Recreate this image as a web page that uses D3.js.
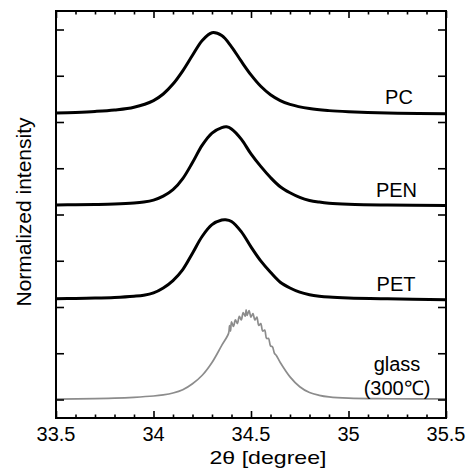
<!DOCTYPE html>
<html><head><meta charset="utf-8">
<script src="https://cdn.jsdelivr.net/npm/d3@7"></script>
<style>body{margin:0;background:#fff}svg{display:block}text{font-family:"Liberation Sans",Arial,sans-serif;fill:#000}</style>
</head><body><svg id="c" width="469" height="469"></svg>
<script>
// ---- data (2θ in degrees, normalized intensity 0..1, stacked by offsets) ----
const samples = ["PC", "PEN", "PET", "glass"];
const offsets = [3, 2, 1, 0];
const sampleLabels = [["PC"], ["PEN"], ["PET"], ["glass", "(300\u2103)"]];
const pcX  = [33.5, 33.6, 33.7, 33.8, 33.9, 34.0, 34.05, 34.1, 34.15, 34.2, 34.25, 34.3, 34.35, 34.4, 34.45, 34.5, 34.55, 34.6, 34.65, 34.7, 34.8, 34.9, 35.0, 35.2, 35.5];
const pcY  = [0.097, 0.104, 0.114, 0.130, 0.160, 0.232, 0.303, 0.410, 0.553, 0.721, 0.881, 0.965, 0.934, 0.813, 0.657, 0.509, 0.386, 0.295, 0.232, 0.190, 0.145, 0.123, 0.111, 0.097, 0.090];
const penX = [33.5, 33.6, 33.7, 33.8, 33.9, 33.95, 34.0, 34.05, 34.1, 34.15, 34.2, 34.25, 34.3, 34.35, 34.375, 34.4, 34.45, 34.5, 34.55, 34.6, 34.65, 34.7, 34.75, 34.8, 34.85, 34.9, 35.0, 35.2, 35.5];
const penY = [0.104, 0.105, 0.108, 0.113, 0.124, 0.135, 0.156, 0.198, 0.268, 0.388, 0.562, 0.750, 0.880, 0.940, 0.948, 0.925, 0.815, 0.655, 0.520, 0.400, 0.300, 0.235, 0.185, 0.152, 0.134, 0.122, 0.111, 0.102, 0.096];
const petX = [33.5, 33.6, 33.7, 33.8, 33.9, 33.95, 34.0, 34.05, 34.1, 34.15, 34.2, 34.25, 34.3, 34.35, 34.37, 34.4, 34.45, 34.5, 34.55, 34.6, 34.65, 34.7, 34.75, 34.8, 34.85, 34.9, 35.0, 35.2, 35.5];
const petY = [0.090, 0.093, 0.097, 0.104, 0.117, 0.128, 0.153, 0.206, 0.286, 0.405, 0.582, 0.765, 0.890, 0.940, 0.943, 0.925, 0.815, 0.650, 0.498, 0.375, 0.268, 0.205, 0.160, 0.133, 0.117, 0.107, 0.097, 0.088, 0.079];
const glsX = [33.5, 33.7, 33.8, 33.9, 34.0, 34.05, 34.1, 34.15, 34.2, 34.25, 34.3, 34.35, 34.385, 34.39, 34.395, 34.40, 34.41, 34.42, 34.43, 34.44, 34.45, 34.46, 34.47, 34.475, 34.48, 34.49, 34.50, 34.51, 34.52, 34.53, 34.54, 34.55, 34.56, 34.57, 34.58, 34.59, 34.60, 34.61, 34.62, 34.63, 34.65, 34.7, 34.75, 34.8, 34.85, 34.9, 35.0, 35.2, 35.5];
const glsY = [0.005, 0.010, 0.015, 0.024, 0.038, 0.050, 0.070, 0.105, 0.170, 0.262, 0.400, 0.585, 0.715, 0.800, 0.740, 0.840, 0.790, 0.860, 0.820, 0.900, 0.860, 0.940, 0.900, 0.970, 0.910, 0.960, 0.890, 0.930, 0.860, 0.890, 0.800, 0.820, 0.740, 0.750, 0.660, 0.660, 0.580, 0.570, 0.500, 0.475, 0.400, 0.245, 0.138, 0.075, 0.045, 0.028, 0.014, 0.008, 0.006];
const seriesX = [pcX, penX, petX, glsX];
const seriesY = [pcY, penY, petY, glsY];
const colors = ["#000", "#000", "#000", "#8c8c8c"];
const widths = [3, 3, 3, 1.7];
const xMajor = [33.5, 34, 34.5, 35, 35.5];
const xMajorLabels = ["33.5", "34", "34.5", "35", "35.5"];
const xMinor = [33.6, 33.7, 33.8, 33.9, 34.1, 34.2, 34.3, 34.4, 34.6, 34.7, 34.8, 34.9, 35.1, 35.2, 35.3, 35.4];
const yTicks = [0, 0.5, 1, 1.5, 2, 2.5, 3, 3.5, 4];

// ---- layout ----
const L = 56, R = 446, T = 11, B = 418;
const svg = d3.select("#c");
const x = d3.scaleLinear().domain([33.5, 35.5]).range([L, R]);
const y = d3.scaleLinear().domain([-0.2, 4.2]).range([B, T]);

const line = d3.line().curve(d3.curveCatmullRom.alpha(0.5));
samples.forEach((s, i) => {
  const pts = seriesX[i].map((v, j) => [x(v), y(seriesY[i][j] + offsets[i])]);
  svg.append("path").attr("d", line(pts)).attr("fill", "none")
    .attr("stroke", colors[i]).attr("stroke-width", widths[i]).attr("stroke-linejoin", "round");
});

function styleAxis(g) { g.select(".domain").remove(); g.selectAll("line").attr("stroke", "#000").attr("stroke-width", 1.6); g.selectAll("text").remove(); }
svg.append("g").attr("transform", `translate(0,${B})`).call(d3.axisBottom(x).tickValues(xMajor).tickSize(-7)).call(styleAxis);
svg.append("g").attr("transform", `translate(0,${B})`).call(d3.axisBottom(x).tickValues(xMinor).tickSize(-3.5)).call(styleAxis);
svg.append("g").attr("transform", `translate(0,${T})`).call(d3.axisTop(x).tickValues(xMajor).tickSize(-7)).call(styleAxis);
svg.append("g").attr("transform", `translate(0,${T})`).call(d3.axisTop(x).tickValues(xMinor).tickSize(-3.5)).call(styleAxis);
svg.append("g").attr("transform", `translate(${L},0)`).call(d3.axisLeft(y).tickValues(yTicks).tickSize(-8)).call(styleAxis);
svg.append("g").attr("transform", `translate(${R},0)`).call(d3.axisRight(y).tickValues(yTicks).tickSize(-8)).call(styleAxis);
svg.append("rect").attr("x", L).attr("y", T).attr("width", R - L).attr("height", B - T)
  .attr("fill", "none").attr("stroke", "#000").attr("stroke-width", 2);

svg.selectAll("text.xt").data(xMajor).enter().append("text").attr("class", "xt")
  .attr("x", d => x(d)).attr("y", 441).attr("text-anchor", "middle").attr("font-size", 20)
  .text((d, i) => xMajorLabels[i]);
svg.append("text").attr("x", 268).attr("y", 464).attr("text-anchor", "middle").attr("font-size", 19)
  .attr("textLength", 117).attr("lengthAdjust", "spacingAndGlyphs").text("2\u03b8 [degree]");
svg.append("text").attr("transform", "translate(30.5,212) rotate(-90)").attr("text-anchor", "middle")
  .attr("font-size", 21).text("Normalized intensity");

const labelPos = [[399, [104]], [396.5, [197]], [396, [291]], [397, [371, 394.5]]];
sampleLabels.forEach((lines, i) => {
  lines.forEach((t, k) => {
    svg.append("text").attr("x", labelPos[i][0]).attr("y", labelPos[i][1][k])
      .attr("text-anchor", "middle").attr("font-size", 20).text(t);
  });
});
</script></body></html>
